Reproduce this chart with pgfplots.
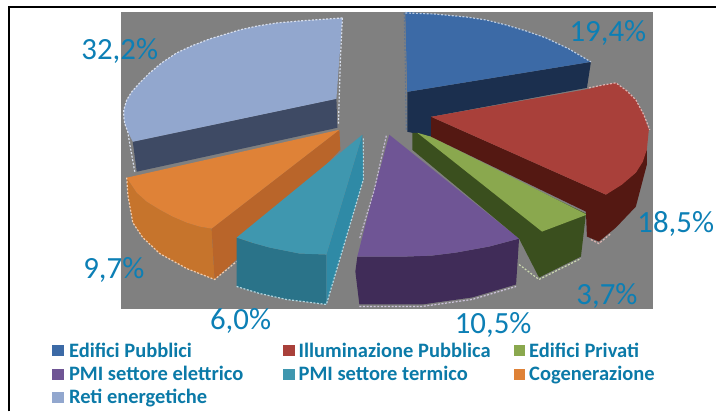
\documentclass[border=0pt]{standalone}
\usepackage{pgfplots}
\pgfplotsset{compat=1.18}
\usepackage{fontspec}
\setmainfont{Carlito}
\definecolor{lab}{HTML}{0C7FB5}
\definecolor{legt}{HTML}{0B7AA8}
\definecolor{bg}{HTML}{808080}
\definecolor{ctb}{HTML}{3C6AA6}\definecolor{cwb}{HTML}{1B2F4E}
\definecolor{ctr}{HTML}{A9403A}\definecolor{cwr}{HTML}{541812}
\definecolor{ctg}{HTML}{8AA84E}\definecolor{cwg}{HTML}{3A4F1E}
\definecolor{ctp}{HTML}{6F5595}\definecolor{cwp}{HTML}{402C58}
\definecolor{ctt}{HTML}{3F97AF}\definecolor{cwt}{HTML}{2A7389}\definecolor{cst}{HTML}{2F8AA6}
\definecolor{cto}{HTML}{DF8237}\definecolor{cwo}{HTML}{C6742C}\definecolor{cso}{HTML}{B9652A}
\definecolor{ctl}{HTML}{92A7CE}\definecolor{cwl}{HTML}{3E4A64}
\tikzset{lt/.style={font=\fontsize{31}{32}\selectfont,text=lab,inner sep=0pt,anchor=base},
         lg/.style={font=\fontsize{20.6}{21}\selectfont\bfseries,text=legt,inner sep=0pt,anchor=base west}}
\newcommand{\face}[2]{\addplot[draw=none,fill=#1,mark=none,forget plot] coordinates {#2} --cycle;}
\newcommand{\dashes}[2]{\addplot[draw=#1,line width=1.2pt,dash pattern=on 2pt off 1.6pt,mark=none,forget plot] coordinates {#2};}
\begin{document}
\begin{tikzpicture}
\begin{axis}[hide axis,scale only axis,width=717bp,height=412bp,xmin=0,xmax=717,ymin=0,ymax=412,y dir=reverse,clip=false]
% frame
\face{white}{(0,0) (0.1,0)}
\face{white}{(717,412) (716.9,412)}
\addplot[black,line width=2.6pt,mark=none,forget plot] coordinates {(9,412) (9,7) (717,7)};
% gray plot area
\face{bg}{(121,12) (654,12) (654,310) (121,310)}
% Reti energetiche
\face{cwl}{(133,142) (337,99) (338,128) (137,172)}
\face{ctl}{(343,18) (300,21) (277,23) (258,26) (240,30) (210,39) (192,46) (177,53) (162,63) (150,73) (140,83) (132,92) (127,100) (124,110) (124,117) (125,124) (128,132) (133,142) (337,99)}
\dashes{ctl!35!white}{(343,18) (300,21) (277,23) (258,26) (240,30) (210,39) (192,46) (177,53) (162,63) (150,73) (140,83) (132,92) (127,100) (124,110) (124,117) (125,124) (128,132) (131,150) (135,172)}
\dashes{ctl!35!white}{(343,18) (341,60) (339,125)}
% Cogenerazione
\face{cwo}{(127,178) (137,193) (147,202) (160,210) (173,217) (187,223) (200,227) (212,229) (215,280) (187,269) (160,254) (143,238) (133,223) (128,195)}
\face{cso}{(212,229) (340,130) (341,150) (237,260) (215,280)}
\face{cto}{(340,130) (127,178) (137,193) (147,202) (160,210) (173,217) (187,223) (200,227) (212,229)}
\dashes{cto!40!white}{(127,178) (128,195) (133,223) (143,238) (160,254) (187,269) (215,280) (237,262)}
% PMI settore termico
\face{cwt}{(237,238) (252,243) (270,248) (285,251) (300,254) (327,255) (327,305) (287,300) (260,294) (237,287)}
\face{cst}{(327,255) (363,135) (364,180) (327,305)}
\face{ctt}{(363,135) (237,238) (252,243) (270,248) (285,251) (300,254) (327,255)}
\dashes{ctt!40!white}{(237,287) (260,294) (287,300) (327,305) (364,180) (364,137)}
% PMI settore elettrico
\face{cwp}{(358,257) (407,257) (433,256) (457,253) (490,247) (520,239) (517,285) (473,298) (423,305) (360,305) (356,272)}
\face{ctp}{(390,135) (375,190) (358,257) (407,257) (433,256) (457,253) (490,247) (520,239)}
\dashes{ctp!40!white}{(387,136) (375,190) (360,240)}
\dashes{ctp!35!white}{(360,307) (423,307) (473,300) (517,287)}
% Edifici Pubblici
\face{cwb}{(408,92) (592,62) (588,88) (432,117) (432,137) (408,132)}
\face{ctb}{(406,12) (435,14) (467,17) (487,20) (507,25) (527,31) (547,38) (570,49) (592,62) (408,92)}
\dashes{ctb!35!white}{(406,13) (435,14) (467,17) (487,20) (507,25) (527,31) (547,38) (570,49) (592,62)}
\dashes{ctb!50!gray}{(405,13) (406,60) (407,130)}
% Edifici Privati
\face{cwg}{(413,133) (413,150) (520,239) (540,278) (582,257) (587,214) (418,133)}
\face{ctg}{(418,133) (432,137) (588,215) (543,232)}
\dashes{ctg!45!white}{(520,265) (540,280) (582,259)}
% Illuminazione Pubblica
\face{cwr}{(432,117) (607,195) (637,173) (648,150) (648,165) (637,207) (617,228) (600,242) (588,237) (587,212) (432,137)}
\face{ctr}{(432,117) (590,89) (605,85) (617,83) (628,91) (637,100) (645,115) (650,130) (648,150) (644,162) (637,173) (623,185) (607,195)}
\dashes{ctr!40!white}{(590,88) (605,85) (617,83) (628,91) (637,100) (645,115) (651,130)}
\dashes{ctr!40!white}{(592,240) (600,244) (612,234)}
% legend squares
\face{ctb}{(52,346) (64,346) (64,357) (52,357)}
\face{ctr}{(284,346) (296,346) (296,357) (284,357)}
\face{ctg}{(515,346) (526,346) (526,357) (515,357)}
\face{ctp}{(52,370) (64,370) (64,381) (52,381)}
\face{ctt}{(284,370) (296,370) (296,381) (284,381)}
\face{cto}{(515,370) (526,370) (526,381) (515,381)}
\face{ctl}{(52,393) (64,393) (64,404) (52,404)}
% data labels
\node[lt] at (axis cs:609,42) {19,4\%};
\node[lt] at (axis cs:677,233) {18,5\%};
\node[lt] at (axis cs:608,305) {3,7\%};
\node[lt] at (axis cs:494,334) {10,5\%};
\node[lt] at (axis cs:241,330) {6,0\%};
\node[lt] at (axis cs:114,279) {9,7\%};
\node[lt] at (axis cs:120,60) {32,2\%};
% legend text
\node[lg] at (axis cs:69,358) {Edifici Pubblici};
\node[lg] at (axis cs:299,358) {Illuminazione Pubblica};
\node[lg] at (axis cs:530,358) {Edifici Privati};
\node[lg] at (axis cs:69,381) {PMI settore elettrico};
\node[lg] at (axis cs:299,381) {PMI settore termico};
\node[lg] at (axis cs:530,381) {Cogenerazione};
\node[lg] at (axis cs:69,404) {Reti energetiche};
\end{axis}
\end{tikzpicture}
\end{document}
